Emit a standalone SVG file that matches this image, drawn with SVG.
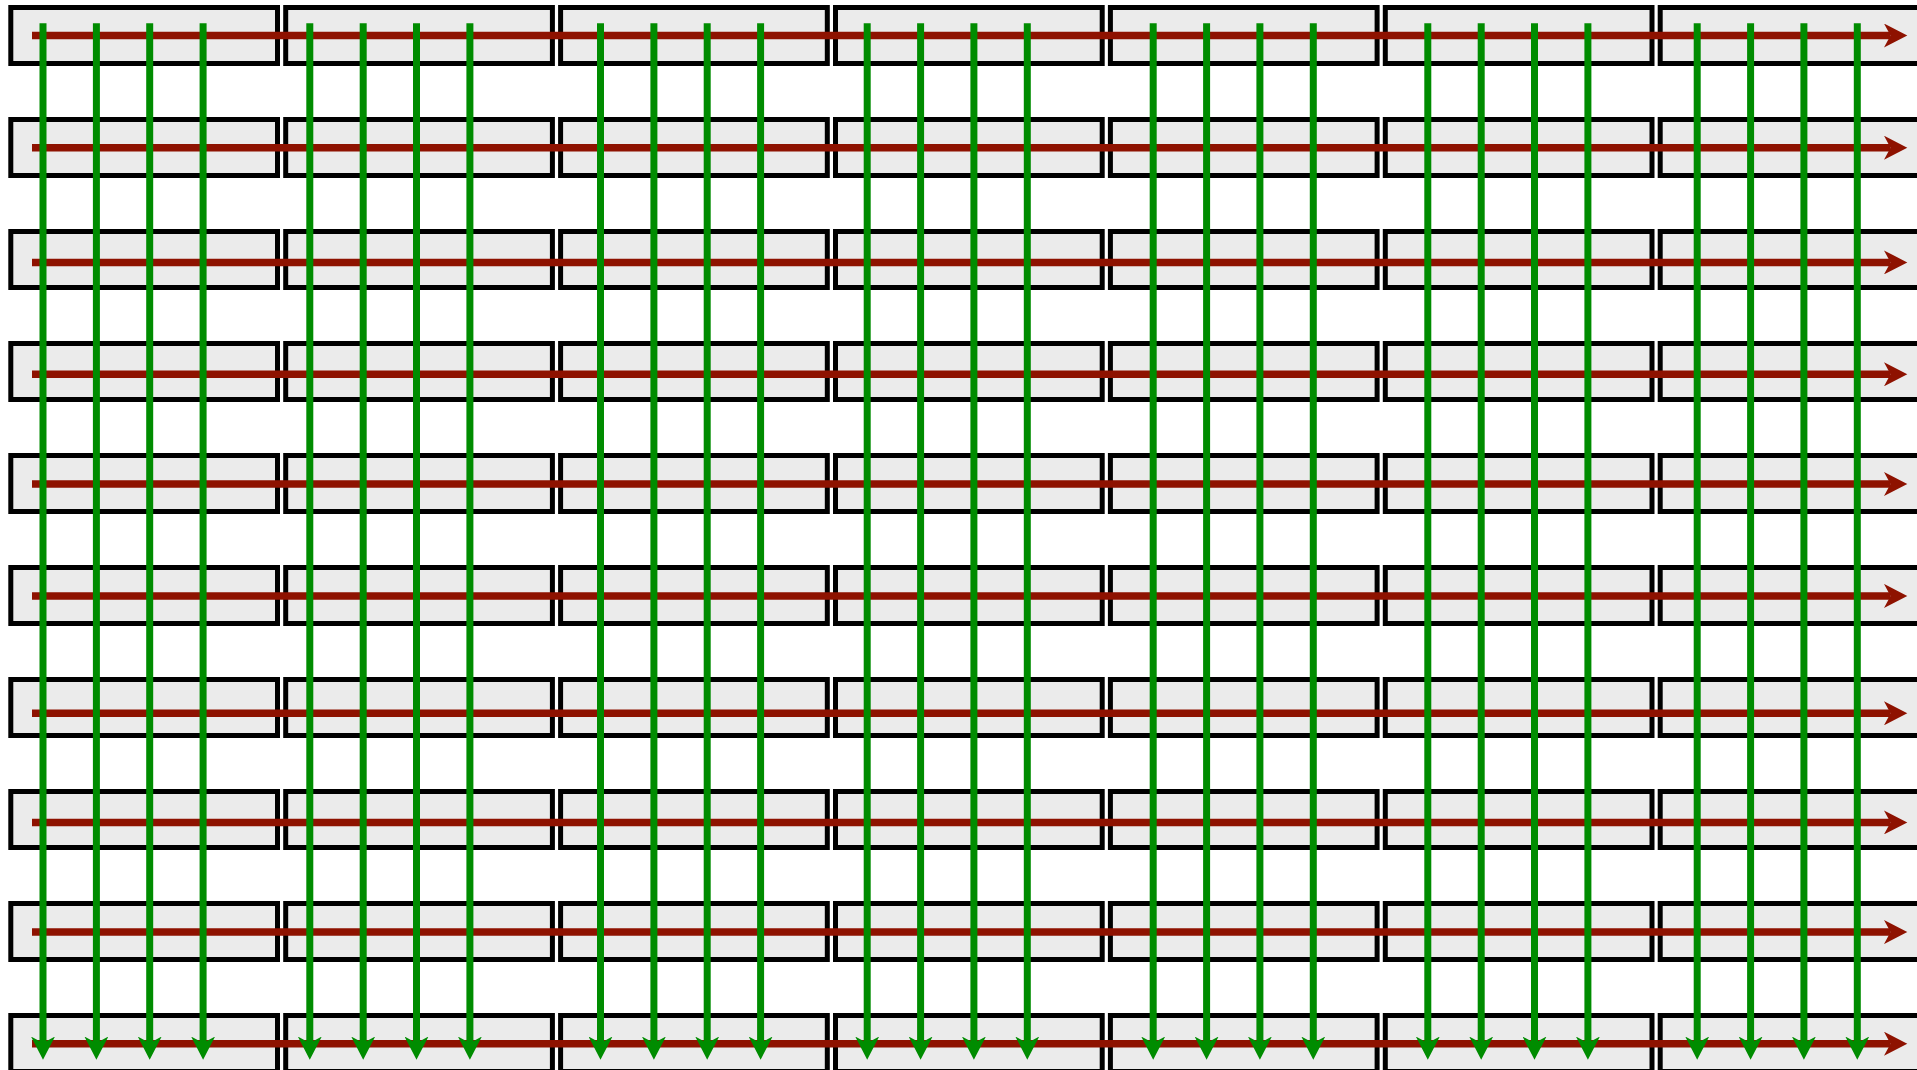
<svg xmlns="http://www.w3.org/2000/svg" width="1917" height="1070" viewBox="0 0 1917 1070">
<style>
.box{fill:#ebebeb;stroke:#000;stroke-width:5}
.red{stroke:#8e1200;stroke-width:7.5;fill:none;marker-end:url(#ar)}
.grn{stroke:#008c00;stroke-width:7;fill:none;marker-end:url(#ag)}
</style>
<defs>
<marker id="ar" markerUnits="userSpaceOnUse" viewBox="0 0 24 24" markerWidth="24" markerHeight="24" refX="6.5" refY="12" orient="auto"><path d="M0,0 L23.3,12 L0,24 L6.5,12 z" fill="#8e1200"/></marker>
<marker id="ag" markerUnits="userSpaceOnUse" viewBox="0 0 24 24" markerWidth="24" markerHeight="24" refX="6.5" refY="12" orient="auto"><path d="M0,0 L23.3,12 L0,24 L6.5,12 z" fill="#008c00"/></marker>
<rect id="b" class="box" width="266.7" height="56"/>
</defs>
<rect width="1917" height="1070" fill="#fff"/>
<g id="nodes">
<g id="r0"><use id="n0_0" href="#b" x="10.8" y="7.5"/><use id="n0_1" href="#b" x="285.7" y="7.5"/><use id="n0_2" href="#b" x="560.6" y="7.5"/><use id="n0_3" href="#b" x="835.5" y="7.5"/><use id="n0_4" href="#b" x="1110.4" y="7.5"/><use id="n0_5" href="#b" x="1385.3" y="7.5"/><use id="n0_6" href="#b" x="1660.2" y="7.5"/></g>
<g id="r1"><use id="n1_0" href="#b" x="10.8" y="119.5"/><use id="n1_1" href="#b" x="285.7" y="119.5"/><use id="n1_2" href="#b" x="560.6" y="119.5"/><use id="n1_3" href="#b" x="835.5" y="119.5"/><use id="n1_4" href="#b" x="1110.4" y="119.5"/><use id="n1_5" href="#b" x="1385.3" y="119.5"/><use id="n1_6" href="#b" x="1660.2" y="119.5"/></g>
<g id="r2"><use id="n2_0" href="#b" x="10.8" y="231.5"/><use id="n2_1" href="#b" x="285.7" y="231.5"/><use id="n2_2" href="#b" x="560.6" y="231.5"/><use id="n2_3" href="#b" x="835.5" y="231.5"/><use id="n2_4" href="#b" x="1110.4" y="231.5"/><use id="n2_5" href="#b" x="1385.3" y="231.5"/><use id="n2_6" href="#b" x="1660.2" y="231.5"/></g>
<g id="r3"><use id="n3_0" href="#b" x="10.8" y="343.5"/><use id="n3_1" href="#b" x="285.7" y="343.5"/><use id="n3_2" href="#b" x="560.6" y="343.5"/><use id="n3_3" href="#b" x="835.5" y="343.5"/><use id="n3_4" href="#b" x="1110.4" y="343.5"/><use id="n3_5" href="#b" x="1385.3" y="343.5"/><use id="n3_6" href="#b" x="1660.2" y="343.5"/></g>
<g id="r4"><use id="n4_0" href="#b" x="10.8" y="455.5"/><use id="n4_1" href="#b" x="285.7" y="455.5"/><use id="n4_2" href="#b" x="560.6" y="455.5"/><use id="n4_3" href="#b" x="835.5" y="455.5"/><use id="n4_4" href="#b" x="1110.4" y="455.5"/><use id="n4_5" href="#b" x="1385.3" y="455.5"/><use id="n4_6" href="#b" x="1660.2" y="455.5"/></g>
<g id="r5"><use id="n5_0" href="#b" x="10.8" y="567.5"/><use id="n5_1" href="#b" x="285.7" y="567.5"/><use id="n5_2" href="#b" x="560.6" y="567.5"/><use id="n5_3" href="#b" x="835.5" y="567.5"/><use id="n5_4" href="#b" x="1110.4" y="567.5"/><use id="n5_5" href="#b" x="1385.3" y="567.5"/><use id="n5_6" href="#b" x="1660.2" y="567.5"/></g>
<g id="r6"><use id="n6_0" href="#b" x="10.8" y="679.5"/><use id="n6_1" href="#b" x="285.7" y="679.5"/><use id="n6_2" href="#b" x="560.6" y="679.5"/><use id="n6_3" href="#b" x="835.5" y="679.5"/><use id="n6_4" href="#b" x="1110.4" y="679.5"/><use id="n6_5" href="#b" x="1385.3" y="679.5"/><use id="n6_6" href="#b" x="1660.2" y="679.5"/></g>
<g id="r7"><use id="n7_0" href="#b" x="10.8" y="791.5"/><use id="n7_1" href="#b" x="285.7" y="791.5"/><use id="n7_2" href="#b" x="560.6" y="791.5"/><use id="n7_3" href="#b" x="835.5" y="791.5"/><use id="n7_4" href="#b" x="1110.4" y="791.5"/><use id="n7_5" href="#b" x="1385.3" y="791.5"/><use id="n7_6" href="#b" x="1660.2" y="791.5"/></g>
<g id="r8"><use id="n8_0" href="#b" x="10.8" y="903.5"/><use id="n8_1" href="#b" x="285.7" y="903.5"/><use id="n8_2" href="#b" x="560.6" y="903.5"/><use id="n8_3" href="#b" x="835.5" y="903.5"/><use id="n8_4" href="#b" x="1110.4" y="903.5"/><use id="n8_5" href="#b" x="1385.3" y="903.5"/><use id="n8_6" href="#b" x="1660.2" y="903.5"/></g>
<g id="r9"><use id="n9_0" href="#b" x="10.8" y="1015.5"/><use id="n9_1" href="#b" x="285.7" y="1015.5"/><use id="n9_2" href="#b" x="560.6" y="1015.5"/><use id="n9_3" href="#b" x="835.5" y="1015.5"/><use id="n9_4" href="#b" x="1110.4" y="1015.5"/><use id="n9_5" href="#b" x="1385.3" y="1015.5"/><use id="n9_6" href="#b" x="1660.2" y="1015.5"/></g>
</g>
<g id="connectors">
<g id="horizontal">
<line class="red" x1="32" y1="35.5" x2="1890.5" y2="35.5"/>
<line class="red" x1="32" y1="147.7" x2="1890.5" y2="147.7"/>
<line class="red" x1="32" y1="262.4" x2="1890.5" y2="262.4"/>
<line class="red" x1="32" y1="374.3" x2="1890.5" y2="374.3"/>
<line class="red" x1="32" y1="484" x2="1890.5" y2="484"/>
<line class="red" x1="32" y1="595.9" x2="1890.5" y2="595.9"/>
<line class="red" x1="32" y1="713.3" x2="1890.5" y2="713.3"/>
<line class="red" x1="32" y1="822.4" x2="1890.5" y2="822.4"/>
<line class="red" x1="32" y1="932.1" x2="1890.5" y2="932.1"/>
<line class="red" x1="32" y1="1043.7" x2="1890.5" y2="1043.7"/>
</g>
<g id="vertical">
<line class="grn" x1="43" y1="23.3" x2="43" y2="1043"/>
<line class="grn" x1="96.4" y1="23.3" x2="96.4" y2="1043"/>
<line class="grn" x1="149.7" y1="23.3" x2="149.7" y2="1043"/>
<line class="grn" x1="203.1" y1="23.3" x2="203.1" y2="1043"/>
<line class="grn" x1="309.8" y1="23.3" x2="309.8" y2="1043"/>
<line class="grn" x1="363.2" y1="23.3" x2="363.2" y2="1043"/>
<line class="grn" x1="416.5" y1="23.3" x2="416.5" y2="1043"/>
<line class="grn" x1="469.9" y1="23.3" x2="469.9" y2="1043"/>
<line class="grn" x1="600.5" y1="23.3" x2="600.5" y2="1043"/>
<line class="grn" x1="653.9" y1="23.3" x2="653.9" y2="1043"/>
<line class="grn" x1="707.2" y1="23.3" x2="707.2" y2="1043"/>
<line class="grn" x1="760.6" y1="23.3" x2="760.6" y2="1043"/>
<line class="grn" x1="867.2" y1="23.3" x2="867.2" y2="1043"/>
<line class="grn" x1="920.6" y1="23.3" x2="920.6" y2="1043"/>
<line class="grn" x1="973.9" y1="23.3" x2="973.9" y2="1043"/>
<line class="grn" x1="1027.3" y1="23.3" x2="1027.3" y2="1043"/>
<line class="grn" x1="1153.2" y1="23.3" x2="1153.2" y2="1043"/>
<line class="grn" x1="1206.6" y1="23.3" x2="1206.6" y2="1043"/>
<line class="grn" x1="1259.9" y1="23.3" x2="1259.9" y2="1043"/>
<line class="grn" x1="1313.3" y1="23.3" x2="1313.3" y2="1043"/>
<line class="grn" x1="1427.8" y1="23.3" x2="1427.8" y2="1043"/>
<line class="grn" x1="1481.2" y1="23.3" x2="1481.2" y2="1043"/>
<line class="grn" x1="1534.5" y1="23.3" x2="1534.5" y2="1043"/>
<line class="grn" x1="1587.9" y1="23.3" x2="1587.9" y2="1043"/>
<line class="grn" x1="1697.2" y1="23.3" x2="1697.2" y2="1043"/>
<line class="grn" x1="1750.6" y1="23.3" x2="1750.6" y2="1043"/>
<line class="grn" x1="1803.9" y1="23.3" x2="1803.9" y2="1043"/>
<line class="grn" x1="1857.3" y1="23.3" x2="1857.3" y2="1043"/>
</g>
</g>
</svg>
